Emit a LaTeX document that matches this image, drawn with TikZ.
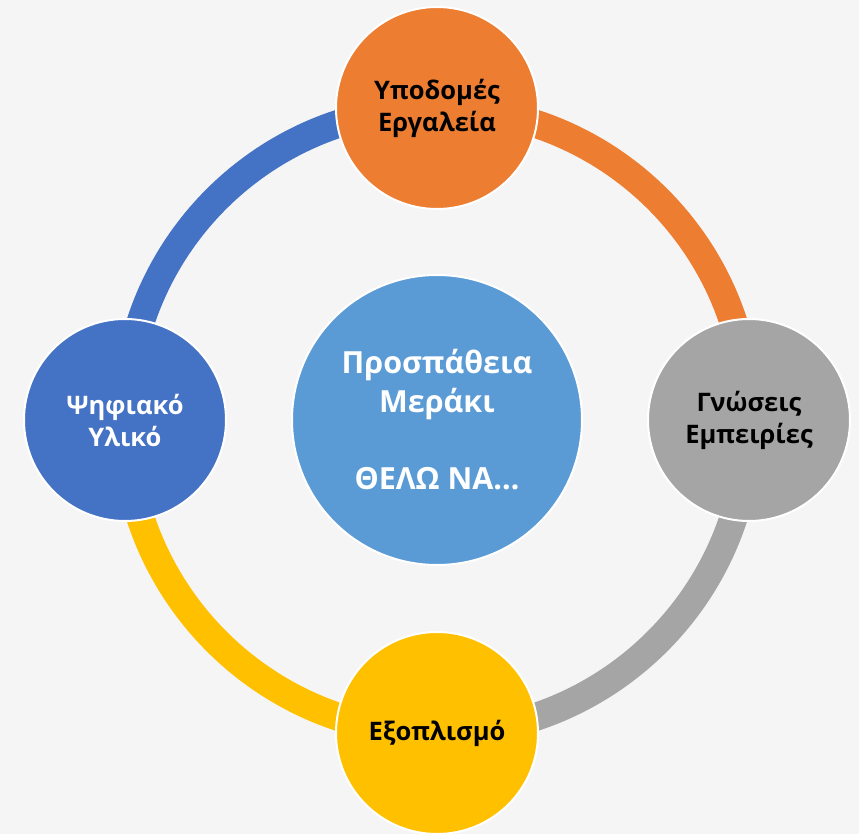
\documentclass[tikz,border=0pt]{standalone}
\usepackage{fontspec}
\setmainfont{Open Sans}
\usetikzlibrary{backgrounds}
\definecolor{paper}{HTML}{F5F5F5}
\definecolor{orng}{HTML}{ED7D31}
\definecolor{dblue}{HTML}{4472C4}
\definecolor{lblue}{HTML}{5B9BD5}
\definecolor{mgray}{HTML}{A5A5A5}
\definecolor{gold}{HTML}{FFC000}

\begin{document}
\begin{tikzpicture}[x=1pt, y=1pt]
    \tikzstyle{ball} = [circle, draw=white, line width=2pt, minimum size=202pt, inner sep=0pt, align=center, font=\bfseries\fontsize{25.5}{32}\selectfont]
    \tikzstyle{hub} = [ball, minimum size=290pt, text=white, font=\bfseries\fontsize{30.5}{38.5}\selectfont]
    \tikzstyle{ring} = [line width=28pt]
    \useasboundingbox (-437,-414) rectangle (422,420);

    % Circles
    \node[hub, fill=lblue] (hub) at (0,0) {Προσπάθεια\\Μεράκι\\[39pt]ΘΕΛΩ ΝΑ…};
    \node[ball, fill=orng] (infra) at (90:312) {Υποδομές\\Εργαλεία};
    \node[ball, fill=mgray] (know) at (0:312) {Γνώσεις\\Εμπειρίες};
    \node[ball, fill=gold] (gear) at (-90:313) {Εξοπλισμό};
    \node[ball, fill=dblue, text=white] (digi) at (180:312) {Ψηφιακό\\Υλικό};

    % Ring
    \begin{scope}[on background layer]
        \fill[paper] (-437,-414) rectangle (422,420);
        \draw[ring, dblue] (digi.center) to[bend left=45] (infra.center);
        \draw[ring, orng] (infra.center) to[bend left=45] (know.center);
        \draw[ring, mgray] (know.center) to[bend left=45] (gear.center);
        \draw[ring, gold] (gear.center) to[bend left=45] (digi.center);
    \end{scope}
\end{tikzpicture}
\end{document}
